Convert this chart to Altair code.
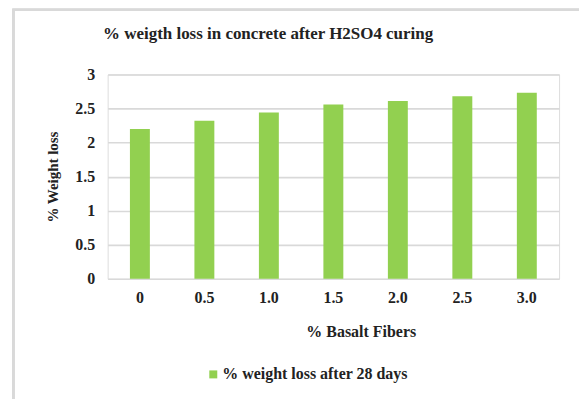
import altair as alt
import pandas as pd

fibers = ["0", "0.5", "1.0", "1.5", "2.0", "2.5", "3.0"]
weight_loss = [2.20, 2.32, 2.44, 2.56, 2.61, 2.68, 2.73]
series_name = "% weight loss after 28 days"
chart_title = "% weigth loss in concrete after H2SO4 curing"
y_ticks = [0, 0.5, 1, 1.5, 2, 2.5, 3]

df = pd.DataFrame({"fiber": fibers, "loss": weight_loss, "series": series_name})
title_df = pd.DataFrame({"t": [chart_title]})

FONT = "Liberation Serif"
GRID = "#d9d9d9"
INK = "#222"

bars = alt.Chart(df).mark_bar(size=20, color="#92d050").encode(
    x=alt.X("fiber:N", sort=fibers,
            axis=alt.Axis(title="% Basalt Fibers", labelAngle=0, labelPadding=11,
                          labelFontSize=16, labelFontWeight="bold", labelColor=INK,
                          titleFontSize=16, titleFontWeight="bold", titleColor=INK,
                          titlePadding=18, titleX=254, domain=False, ticks=False,
                          labelFont=FONT, titleFont=FONT)),
    y=alt.Y("loss:Q", scale=alt.Scale(domain=[0, 3], nice=False),
            axis=alt.Axis(title="% Weight loss", values=y_ticks,
                          labelExpr="'' + datum.value",
                          labelPadding=13, labelFontSize=16, labelFontWeight="bold",
                          labelColor=INK, titleFontSize=15, titleFontWeight="bold",
                          titleColor=INK, titlePadding=14, domain=False, ticks=False,
                          grid=True, gridColor=GRID, gridWidth=1.6,
                          labelFont=FONT, titleFont=FONT)),
    color=alt.Color("series:N", scale=alt.Scale(range=["#92d050"]),
                    legend=alt.Legend(title=None, orient="none", legendX=98, legendY=293,
                                      symbolType="square", symbolSize=64, labelLimit=0,
                                      labelFont=FONT, labelFontSize=16, labelFontWeight="bold",
                                      labelColor=INK, labelOffset=1)),
)

title = alt.Chart(title_df).mark_text(
    font=FONT, fontSize=17, fontWeight="bold", color=INK, align="center", baseline="alphabetic"
).encode(text="t:N", x=alt.value(161), y=alt.value(-35.5))

frame_left = alt.Chart(df).mark_rule(color=GRID, strokeWidth=2).encode(
    x=alt.value(-94.5), y=alt.value(-65), y2=alt.value(330))
frame_top = alt.Chart(df).mark_rule(color=GRID, strokeWidth=2).encode(
    x=alt.value(-95.5), x2=alt.value(480), y=alt.value(-65))

chart = alt.layer(bars, title, frame_left, frame_top).properties(
    width=453, height=205,
    autosize=alt.AutoSizeParams(type="none"),
    padding={"left": 100, "top": 66, "right": 20, "bottom": 120},
).configure_view(stroke=None).configure(background="white")

chart.save("out.html", embed_options={"renderer": "svg", "actions": False})
